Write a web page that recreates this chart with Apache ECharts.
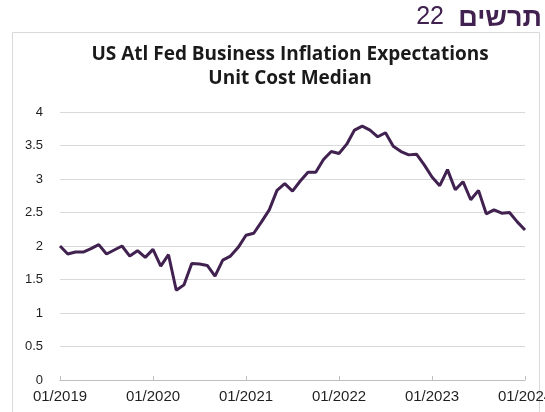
<!DOCTYPE html>
<html>
<head>
<meta charset="utf-8">
<title>US Atl Fed Business Inflation Expectations</title>
<script src="https://cdn.jsdelivr.net/npm/echarts@6/dist/echarts.min.js"></script>
<style>
  html, body { margin: 0; padding: 0; background: #fff; }
  #main { width: 545px; height: 412px; }
</style>
</head>
<body>
<div id="main"></div>
<script>
// monthly values, 01/2019 .. 01/2024
var v2019 = [2.00, 1.88, 1.91, 1.91, 1.96, 2.02, 1.88, 1.94, 2.00, 1.85, 1.93, 1.83];
var v2020 = [1.95, 1.70, 1.87, 1.34, 1.42, 1.74, 1.73, 1.71, 1.55, 1.79, 1.85, 1.98];
var v2021 = [2.16, 2.19, 2.36, 2.54, 2.83, 2.93, 2.82, 2.97, 3.10, 3.10, 3.29, 3.41];
var v2022 = [3.38, 3.52, 3.73, 3.79, 3.73, 3.63, 3.69, 3.49, 3.41, 3.36, 3.37, 3.21];
var v2023 = [3.03, 2.90, 3.14, 2.84, 2.96, 2.69, 2.83, 2.48, 2.54, 2.49, 2.50, 2.36];
var v2024 = [2.24];
var years = [2019, 2020, 2021, 2022, 2023];

var unitCost = [].concat(v2019, v2020, v2021, v2022, v2023, v2024);

// category labels MM/YYYY
var months = [];
for (var i = 0; i < years.length; i++) {
    for (var m = 1; m <= 12; m++) {
        months.push((m < 10 ? '0' + m : '' + m) + '/' + years[i]);
    }
}
months.push('01/2024');

var purple = '#40214f';
var chart = echarts.init(document.getElementById('main'));

var option = {
    animation: false,
    backgroundColor: '#fff',
    title: {
        text: 'US Atl Fed Business Inflation Expectations\nUnit Cost Median',
        left: 285,
        textAlign: 'center',
        top: 38,
        textStyle: {
            fontFamily: 'Open Sans',
            fontWeight: 'bold',
            fontSize: 19,
            lineHeight: 24,
            color: '#1a1a1a'
        }
    },
    graphic: [
        {
            type: 'rect',
            shape: { x: 12.5, y: 32.5, width: 527, height: 400 },
            style: { fill: 'none', stroke: '#d9d9d9', lineWidth: 1 },
            silent: true
        },
        {
            type: 'text',
            x: 542,
            y: 5,
            style: {
                text: 'תרשים',
                align: 'right',
                verticalAlign: 'top',
                font: 'bold 27px "Liberation Sans"',
                fill: purple
            }
        },
        {
            type: 'text',
            x: 444,
            y: 5,
            style: {
                text: '22',
                align: 'right',
                verticalAlign: 'top',
                font: '25px "Liberation Sans"',
                fill: purple
            }
        }
    ],
    grid: {
        left: 60,
        right: 20,
        top: 112,
        bottom: 32,
        outerBoundsMode: 'none'
    },
    xAxis: {
        type: 'category',
        boundaryGap: false,
        data: months,
        axisLine: { lineStyle: { color: '#bfbfbf', width: 1 } },
        axisTick: { inside: true, length: 4, interval: 11, lineStyle: { color: '#bfbfbf' } },
        axisLabel: {
            interval: 11,
            margin: 9,
            fontFamily: 'Liberation Sans',
            fontSize: 15,
            color: '#1f1f1f',
            showMaxLabel: true,
            hideOverlap: false
        },
        splitLine: { show: false }
    },
    yAxis: {
        type: 'value',
        min: 0,
        max: 4,
        interval: 0.5,
        axisLine: { show: false },
        axisTick: { show: false },
        axisLabel: {
            margin: 17,
            fontFamily: 'Liberation Sans',
            fontSize: 13,
            color: '#1f1f1f'
        },
        splitLine: { lineStyle: { color: '#d9d9d9', width: 1 } }
    },
    series: [
        {
            name: 'Unit Cost Median',
            type: 'line',
            data: unitCost,
            symbol: 'none',
            lineStyle: { color: purple, width: 3 },
            z: 5
        }
    ]
};
chart.setOption(option);
</script>
</body>
</html>
